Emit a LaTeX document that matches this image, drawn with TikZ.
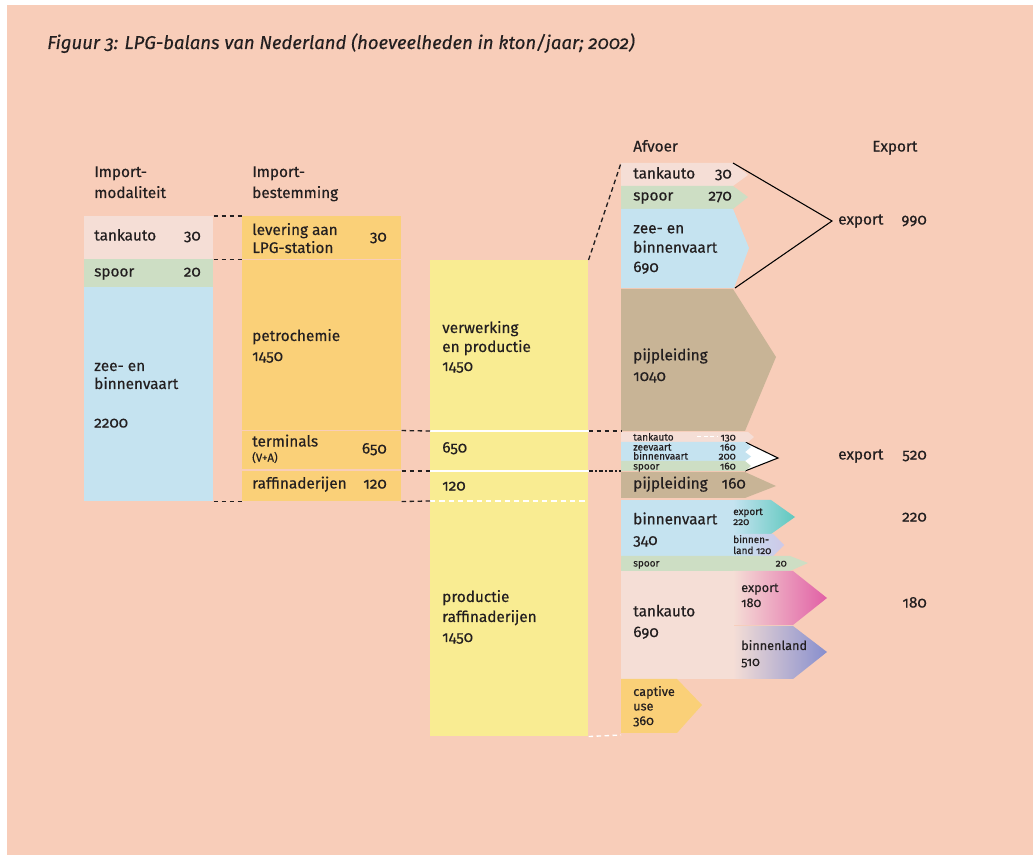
\documentclass[tikz,border=0pt]{standalone}
\usepackage{fontspec}
\setmainfont{Fira Sans}[Numbers=OldStyle, FakeBold=0.35]
\usepackage{tikz}
\usetikzlibrary{positioning}
\definecolor{bgpeach}{RGB}{248,205,185}
\definecolor{lpgpink}{RGB}{245,222,214}
\definecolor{lpggreen}{RGB}{205,222,196}
\definecolor{lpgblue}{RGB}{197,227,240}
\definecolor{lpgorange}{RGB}{250,208,120}
\definecolor{lpgyellow}{RGB}{249,236,146}
\definecolor{lpgtan}{RGB}{200,180,150}
\definecolor{lpgteal}{RGB}{95,200,190}
\definecolor{lpglilac}{RGB}{205,200,232}
\definecolor{lpgmagenta}{RGB}{225,95,165}
\definecolor{lpgviolet}{RGB}{135,142,205}
\definecolor{lpgtext}{RGB}{35,31,32}

\begin{document}
\begin{tikzpicture}[x=0.75pt, y=-0.75pt,
  every node/.style={inner sep=0pt, text=lpgtext, font=\fontsize{11.5}{14}\selectfont},
  box/.style 2 args={anchor=north west, minimum width=#1*0.75pt, minimum height=#2*0.75pt},
  lbl/.style={anchor=mid west},
  num/.style={anchor=mid east},
  multi/.style={anchor=base west, align=left},
  small/.style={font=\fontsize{7.5}{7.5}\selectfont},
  mid/.style={font=\fontsize{9.5}{11}\selectfont},
  link/.style={draw=lpgtext, line width=1pt, dash pattern=on 3.5pt off 2.5pt},
  edge/.style={draw=black, line width=0.8pt}
]
\useasboundingbox (0,0) rectangle (1033,855);
\fill[bgpeach] (7,5) rectangle (1033,855);

\node[anchor=base west, font=\fontsize{13.9}{16}\selectfont\itshape] (title) at (47,49)
  {Figuur 3: LPG-balans van Nederland (hoeveelheden in kton/jaar; 2002)};

% import-modaliteit (multi nodes sit on their last line)
\node[multi, font=\fontsize{11.5}{15.75}\selectfont] (hMod) at (94,198) {Import-\\modaliteit};
\node[box={129}{43}, fill=lpgpink] (mTank) at (84,216) {};
\node[box={129}{28}, fill=lpggreen] (mSpoor) at (84,259) {};
\node[box={129}{214}, fill=lpgblue] (mZee) at (84,287) {};
\node[lbl] (tTank) at (94,237) {tankauto};
\node[num] (nTank) at (201,237) {30};
\node[lbl] (tSpoor) at (94,273) {spoor};
\node[num] (nSpoor) at (201,273) {20};
\node[multi, font=\fontsize{11.5}{13.5}\selectfont] (tZee) at (94,389) {zee- en\\binnenvaart};
\node[lbl] (nZee) at (94,424) {2200};

% import-bestemming
\node[multi, font=\fontsize{11.5}{15.75}\selectfont] (hBest) at (252,198) {Import-\\bestemming};
\node[box={159}{43}, fill=lpgorange] (bLev) at (242,216) {};
\node[box={159}{170}, fill=lpgorange] (bPetro) at (242,260) {};
\node[box={159}{38}, fill=lpgorange] (bTerm) at (242,431) {};
\node[box={159}{30}, fill=lpgorange] (bRaff) at (242,471) {};
\node[multi, font=\fontsize{11.5}{13.5}\selectfont] (tLev) at (252,253) {levering aan\\LPG-station};
\node[num] (nLev) at (387,238) {30};
\node[multi, font=\fontsize{11.5}{15}\selectfont] (tPetro) at (252,361) {petrochemie\\1450};
\node[lbl] (tTerm) at (252,443) {terminals};
\node[lbl, font=\fontsize{8.5}{9}\selectfont] (tVA) at (252,458) {(V+A)};
\node[num] (nTerm) at (387,450) {650};
\node[lbl] (tRaff) at (252,485) {raffinaderijen};
\node[num] (nRaff) at (387,485) {120};

\draw[link] (mTank.north east) -- (bLev.north west);
\draw[link] (mTank.south east) -- (bLev.south west);
\draw[link] (mZee.south east) -- (bRaff.south west);

% verwerking
\node[box={158}{171}, fill=lpgyellow] (vVerw) at (430,260) {};
\node[box={158}{40}, fill=lpgyellow] (vTerm) at (430,431) {};
\node[box={158}{30}, fill=lpgyellow] (vRaff) at (430,471) {};
\node[box={158}{235}, fill=lpgyellow] (vProd) at (430,501) {};
\draw[white, line width=1.3pt] (vTerm.north west) -- (vTerm.north east);
\draw[white, line width=1.3pt] (vRaff.north west) -- (vRaff.north east);
\draw[white, line width=1.3pt, dash pattern=on 4pt off 3pt] (vProd.north west) -- (vProd.north east);
\node[multi, font=\fontsize{11.5}{14.25}\selectfont] (tVerw) at (442,371) {verwerking\\en productie\\1450};
\node[lbl] (nvTerm) at (442,449) {650};
\node[lbl] (nvRaff) at (442,487) {120};
\node[multi, font=\fontsize{11.5}{15}\selectfont] (tProd) at (442,642) {productie\\raffinaderijen\\1450};

\draw[link] (bPetro.south east) -- (vTerm.north west);
\draw[link] (bRaff.north east) -- (vRaff.north west);
\draw[link] (bRaff.south east) -- (vProd.north west);

% afvoer
\node[lbl] (hAfvoer) at (633,148) {Afvoer};
\node[lbl] (hExport) at (872,148) {Export};
\coordinate (aTop) at (621,163);
\coordinate (aSmall) at (621,431);
\coordinate (aPijp) at (621,471);
\coordinate (aBottom) at (621,735);

\fill[lpgpink] (621,163) -- (733,163) -- (748,175) -- (733,186) -- (621,186) -- cycle;
\fill[lpggreen] (621,186) -- (733,186) -- (748,197) -- (733,209) -- (621,209) -- cycle;
\fill[lpgblue] (621,209) -- (733,209) -- (749,248) -- (734,288) -- (621,288) -- cycle;
\fill[lpgtan] (621,289) -- (733,289) -- (776,357) -- (745,431) -- (621,431) -- cycle;
\node[lbl] (aTank) at (633,175) {tankauto};
\node[num] (anTank) at (732,175) {30};
\node[lbl] (aSpoor) at (633,197) {spoor};
\node[num] (anSpoor) at (732,197) {270};
\node[multi, font=\fontsize{11.5}{14.5}\selectfont] (aZee) at (633,272) {zee- en\\binnenvaart\\690};
\node[multi, font=\fontsize{11.5}{15.5}\selectfont] (aPijpl) at (633,381) {pijpleiding\\1040};

\coordinate (exTop) at (733,163);
\coordinate (exApex) at (832,221);
\coordinate (exBot) at (735,288);
\draw[edge] (exTop) -- (exApex) -- (exBot);
\node[lbl] (ex990) at (838,221) {export};
\node[num] (nx990) at (927,221) {990};

% terminals naar export
\fill[white] (745,442) -- (778,458) -- (745,471) -- cycle;
\draw[edge] (745,442) -- (778,458) -- (745,471);
\fill[lpgpink] (621,432) -- (748,432) -- (754,437) -- (748,442) -- (621,442) -- cycle;
\fill[lpgblue] (621,442) -- (745,442) -- (751,447) -- (745,452) -- (621,452) -- cycle;
\fill[lpgblue] (621,452) -- (745,452) -- (751,456.5) -- (745,461) -- (621,461) -- cycle;
\fill[lpggreen] (621,461) -- (745,461) -- (751,466) -- (745,471) -- (621,471) -- cycle;
\draw[white, line width=0.6pt, dash pattern=on 3pt off 2pt] (697,436.5) -- (718,436.5);
\node[lbl, small] (sTank) at (633,437) {tankauto};
\node[num, small] (snTank) at (736,437) {130};
\node[lbl, small] (sZee) at (633,447) {zeevaart};
\node[num, small] (snZee) at (736,447) {160};
\node[lbl, small] (sBinnen) at (633,456) {binnenvaart};
\node[num, small] (snBinnen) at (736,456) {200};
\node[lbl, small] (sSpoor) at (633,466) {spoor};
\node[num, small] (snSpoor) at (736,466) {160};
\node[lbl] (ex520) at (838,456) {export};
\node[num] (nx520) at (927,456) {520};

\fill[lpgtan] (621,472) -- (745,472) -- (776,486) -- (745,498) -- (621,498) -- cycle;
\node[lbl] (aPijp2) at (633,485) {pijpleiding};
\node[num] (anPijp2) at (746,485) {160};

% raffinaderijen
\fill[lpgblue] (621,500) rectangle (734,556);
\shade[left color=lpgblue, right color=lpgteal] (733,500) -- (771,500) -- (795,517) -- (771,534) -- (733,534) -- cycle;
\shade[left color=lpgblue, right color=lpglilac] (733,534) -- (773,534) -- (784,545) -- (773,556) -- (733,556) -- cycle;
\node[multi, font=\fontsize{11.5}{15.5}\selectfont] (aBinnen) at (633,545) {binnenvaart\\340};
\node[multi, font=\fontsize{7.5}{7.5}\selectfont] (aBx) at (733,525) {export\\220};
\node[multi, font=\fontsize{7.5}{8.25}\selectfont] (aBb) at (733,554) {binnen-\\land 120};
\node[num] (nx220) at (927,518) {220};

\fill[lpggreen] (621,556) -- (790,556) -- (808,563) -- (790,571) -- (621,571) -- cycle;
\node[lbl, small] (aSpoor2) at (633,563) {spoor};
\node[num, small] (anSpoor2) at (787,563) {20};

\fill[lpgpink] (621,571) rectangle (734,679);
\shade[left color=lpgpink, right color=lpgmagenta] (733,571) -- (793,571) -- (827,598) -- (793,625) -- (733,625) -- cycle;
\shade[left color=lpgpink, right color=lpgviolet] (733,626) -- (793,626) -- (827,652) -- (793,679) -- (733,679) -- cycle;
\node[multi, font=\fontsize{11.5}{15.5}\selectfont] (aTank2) at (633,637) {tankauto\\690};
\node[multi, font=\fontsize{9.5}{11.25}\selectfont] (aTx) at (741,607) {export\\180};
\node[multi, font=\fontsize{9.5}{12}\selectfont] (aTb) at (741,666) {binnenland\\510};
\node[num] (nx180) at (927,604) {180};

\fill[lpgorange] (621,679) -- (677,679) -- (702,705) -- (677,733) -- (621,733) -- cycle;
\node[multi, font=\fontsize{9.5}{10.9}\selectfont] (aCapt) at (633,725) {captive\\use\\360};

\draw[link] (vVerw.north east) -- (aTop);
\draw[link] (vTerm.north east) -- (aSmall);
\draw[link, dash pattern=on 3.5pt off 1.5pt on 1pt off 1.5pt] (vRaff.north east) -- (aPijp);
\draw[link, draw=white] (vProd.south east) -- (aBottom);
\end{tikzpicture}
\end{document}
